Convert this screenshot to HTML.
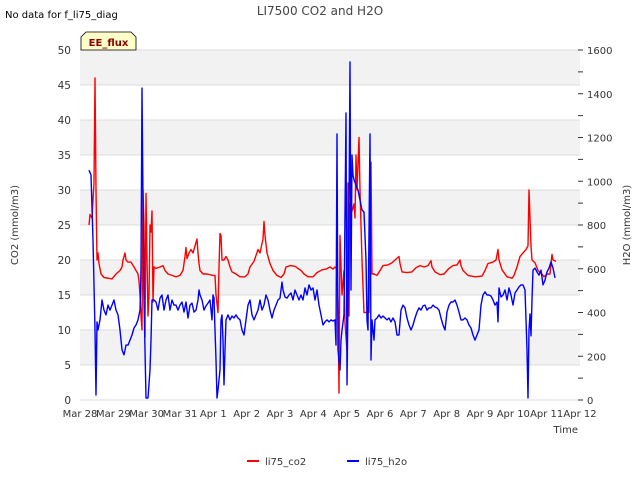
<!DOCTYPE html>
<html><head><meta charset="utf-8"><style>
body{margin:0;background:#fff;}
svg{display:block;font-family:"DejaVu Sans","Liberation Sans",sans-serif;}
</style></head><body>
<svg id="chart" width="640" height="480" viewBox="0 0 640 480" xmlns="http://www.w3.org/2000/svg">
<text x="5" y="18" font-size="10" fill="#000">No data for f_li75_diag</text>
<text x="320" y="15" font-size="12" fill="#444" text-anchor="middle">LI7500 CO2 and H2O</text>
<g id="bands"></g>
<g id="grid"></g>
<g id="series"></g>
<g id="axes"></g>
<g>
<path d="M81,50 L81,37 L86,32 L131,32 L136,37 L136,50 Z" fill="#ffffc8" stroke="#000" stroke-width="0.8"/>
<text x="108.5" y="46" font-size="10" font-weight="bold" fill="#8b0000" text-anchor="middle">EE_flux</text>
</g>
<text transform="translate(18,225) rotate(-90)" font-size="10" fill="#333" text-anchor="middle">CO2 (mmol/m3)</text>
<text transform="translate(630,225) rotate(-90)" font-size="10" fill="#333" text-anchor="middle">H2O (mmol/m3)</text>
<text x="578" y="433" font-size="10" fill="#333" text-anchor="end">Time</text>
<g>
<g><line x1="247" y1="461" x2="259" y2="461" stroke="#f00" stroke-width="2"/><text x="265" y="465" font-size="10" fill="#333">li75_co2</text></g>
<g><line x1="347" y1="461" x2="359" y2="461" stroke="#00f" stroke-width="2"/><text x="365" y="465" font-size="10" fill="#333">li75_h2o</text></g>
</g>
</svg>
<script>
const xTickLabels=["Mar 28","Mar 29","Mar 30","Mar 31","Apr 1","Apr 2","Apr 3","Apr 4","Apr 5","Apr 6","Apr 7","Apr 8","Apr 9","Apr 10","Apr 11","Apr 12"];
const leftTicks=[0,5,10,15,20,25,30,35,40,45,50];
const rightTicks=[0,200,400,600,800,1000,1200,1400,1600];
const co2Time=[0.27,0.30,0.36,0.42,0.45,0.48,0.51,0.54,0.57,0.63,0.72,0.84,0.96,1.08,1.20,1.26,1.29,1.32,1.35,1.38,1.44,1.53,1.62,1.68,1.74,1.77,1.80,1.83,1.86,1.89,1.92,1.95,1.98,2.01,2.04,2.07,2.10,2.13,2.16,2.19,2.22,2.28,2.40,2.49,2.55,2.64,2.76,2.88,3.00,3.09,3.15,3.18,3.21,3.27,3.33,3.39,3.45,3.51,3.54,3.57,3.60,3.69,3.81,3.99,4.05,4.08,4.14,4.17,4.20,4.23,4.26,4.32,4.38,4.44,4.50,4.56,4.68,4.80,4.95,5.04,5.10,5.22,5.34,5.40,5.49,5.52,5.55,5.61,5.70,5.79,5.91,6.03,6.12,6.18,6.30,6.45,6.54,6.63,6.72,6.84,6.99,7.11,7.26,7.38,7.50,7.59,7.65,7.71,7.74,7.77,7.80,7.86,7.92,7.95,8.01,8.04,8.07,8.10,8.16,8.22,8.25,8.28,8.31,8.37,8.40,8.46,8.52,8.67,8.70,8.73,8.76,8.82,8.91,9.00,9.09,9.24,9.36,9.45,9.57,9.60,9.66,9.81,9.96,10.08,10.20,10.32,10.44,10.53,10.56,10.65,10.80,10.92,11.07,11.19,11.31,11.40,11.43,11.49,11.64,11.85,12.06,12.15,12.24,12.39,12.48,12.54,12.57,12.66,12.81,12.96,13.02,13.11,13.20,13.29,13.38,13.44,13.47,13.50,13.53,13.56,13.65,13.74,13.86,13.92,14.01,14.10,14.13,14.16,14.19,14.28];
const co2Values=[25,26.5,26,31,46,30,20,21,19.5,18,17.5,17.4,17.3,18,18.5,19,20,20.5,21,20,19.7,19.7,19,18.5,18,17,15,12,10,30,25,9,29.5,20,12,15,25,24,27,14,19,18.8,19,19.2,18.5,18,17.8,17.6,17.8,18.5,20.5,21.8,20.2,21,21.5,21,22,23,21,19.5,18.5,18,18,17.8,17.8,15,12.5,19,23.8,23.5,20,20,20.5,20,19,18.3,18,17.6,17.6,18,19,19.8,21.5,21,23,25.5,23.5,21,19.5,18.5,17.8,17.5,18,19,19.2,19.1,18.8,18.5,18,17.6,17.6,18.2,18.6,18.7,19,18.7,19,18.7,14,1,23.5,15,18.5,11,7,31,12,28,27,28,26,35,30,37.5,30,20,12.5,12.5,25,34,18,18,17.8,18.5,19.2,19.3,19.6,20,20.5,19.5,18.3,18.2,18.3,18.9,19.2,19,19.2,19.9,19,18.3,17.9,18,18.8,19.2,19.3,20,19.2,18.5,17.8,17.6,17.7,18.5,19.5,19.7,20,21.5,20,18.6,17.6,17.4,17.8,19,20.5,21,21.5,22,30,26,22,20,19.6,18.5,18,17.6,18,18,19.5,20.8,20,19.8];
const h2oTime=[0.27,0.33,0.39,0.45,0.48,0.51,0.54,0.60,0.66,0.72,0.78,0.84,0.90,0.96,1.02,1.08,1.14,1.20,1.26,1.32,1.38,1.44,1.50,1.56,1.62,1.68,1.74,1.80,1.83,1.86,1.89,1.92,1.95,1.98,2.04,2.10,2.13,2.16,2.22,2.28,2.34,2.40,2.46,2.52,2.58,2.64,2.70,2.76,2.82,2.88,2.94,3.00,3.06,3.12,3.18,3.24,3.30,3.36,3.42,3.48,3.54,3.57,3.60,3.66,3.72,3.78,3.84,3.90,3.96,3.99,4.02,4.05,4.08,4.11,4.14,4.20,4.23,4.26,4.29,4.32,4.35,4.38,4.44,4.50,4.56,4.62,4.68,4.74,4.80,4.86,4.92,4.98,5.04,5.10,5.16,5.22,5.28,5.34,5.40,5.46,5.52,5.58,5.64,5.70,5.76,5.82,5.88,5.94,6.00,6.06,6.09,6.15,6.21,6.27,6.33,6.39,6.45,6.51,6.57,6.63,6.69,6.75,6.81,6.87,6.93,6.99,7.05,7.11,7.17,7.23,7.29,7.35,7.41,7.47,7.53,7.59,7.65,7.68,7.71,7.74,7.77,7.80,7.83,7.86,7.92,7.98,8.01,8.04,8.07,8.10,8.13,8.16,8.19,8.22,8.28,8.34,8.40,8.46,8.52,8.58,8.61,8.64,8.70,8.73,8.76,8.79,8.82,8.85,8.91,8.97,9.03,9.09,9.15,9.21,9.27,9.33,9.39,9.45,9.51,9.57,9.63,9.69,9.75,9.81,9.87,9.93,9.99,10.05,10.11,10.17,10.23,10.29,10.35,10.41,10.47,10.53,10.59,10.65,10.71,10.77,10.83,10.89,10.95,11.01,11.07,11.13,11.19,11.25,11.31,11.37,11.43,11.49,11.55,11.61,11.67,11.73,11.79,11.85,11.91,11.97,12.03,12.09,12.15,12.21,12.27,12.33,12.39,12.45,12.51,12.54,12.57,12.63,12.69,12.75,12.81,12.87,12.93,12.99,13.05,13.11,13.17,13.23,13.29,13.35,13.41,13.44,13.47,13.50,13.53,13.56,13.59,13.65,13.71,13.77,13.83,13.89,13.95,14.01,14.07,14.13,14.19,14.25];
const h2oValues=[1051,1029,731,320,23,357,320,366,457,411,389,434,411,434,457,411,389,320,229,206,251,251,274,297,329,343,366,411,594,1426,914,457,229,9,9,137,274,457,457,448,411,466,480,411,457,480,411,457,434,434,411,434,448,402,448,375,434,443,402,411,457,503,480,457,411,430,443,457,366,480,466,320,183,9,46,137,366,389,274,69,229,366,389,366,384,375,389,375,366,320,297,366,434,457,389,366,389,411,457,411,434,480,457,411,375,411,434,457,466,539,503,471,466,480,489,457,503,480,457,480,457,512,480,526,503,512,457,503,434,389,343,357,366,357,366,361,366,251,1216,229,183,137,274,320,389,1312,69,457,869,1545,503,1120,1029,1006,983,960,914,869,859,640,366,320,1216,183,366,320,274,366,375,389,375,384,375,366,375,357,375,357,297,297,411,434,421,375,343,320,343,375,402,421,411,430,434,411,421,421,434,425,421,411,375,343,320,402,434,448,448,457,434,402,366,366,375,366,343,329,297,274,297,320,434,480,494,480,480,475,457,434,448,357,512,471,480,503,457,512,480,434,489,503,517,526,526,503,229,9,320,393,293,457,594,603,585,571,594,526,548,585,603,631,603,558];

const NS="http://www.w3.org/2000/svg";
const X0=80,X1=580,Y0=400,Y1=50;
const xScale=d=>X0+(X1-X0)*d/15;
const yL=v=>Y0-(Y0-Y1)*v/50;
const yR=v=>Y0-(Y0-Y1)*v/1600;
function mk(tag,attrs,parent){const e=document.createElementNS(NS,tag);for(const k in attrs)e.setAttribute(k,attrs[k]);parent.appendChild(e);return e;}
const bands=document.getElementById('bands'),grid=document.getElementById('grid'),series=document.getElementById('series'),axes=document.getElementById('axes');
mk('rect',{x:X0,y:Y1,width:X1-X0,height:Y0-Y1,fill:'#fff'},bands);
for(let i=0;i<leftTicks.length-1;i++){
  if(i%2===1){const r=mk('rect',{x:X0,y:yL(leftTicks[i+1]),width:X1-X0,height:yL(leftTicks[i])-yL(leftTicks[i+1]),fill:'#f2f2f2'},bands);
  
  }
}
leftTicks.forEach(v=>{
  const l=mk('line',{x1:X0,x2:X1,y1:yL(v),y2:yL(v),stroke:'#dcdcdc','stroke-width':1},grid);
  
  
  const t=mk('text',{x:X0-9,y:yL(v)+4,'font-size':10.5,fill:'#333','text-anchor':'end'},axes);
  t.textContent=v;
  
  
});
rightTicks.forEach(v=>{
  const t=mk('text',{x:X1+7,y:yR(v)+4,'font-size':10,fill:'#333'},axes);
  t.textContent=v;
  
  
});
for(let v=0;v<=1600;v+=100){
  const tk=mk('line',{x1:X1-2,x2:X1+3,y1:yR(v),y2:yR(v),stroke:'#333','stroke-width':1},axes);
  
  
}
xTickLabels.forEach((s,i)=>{
  const t=mk('text',{x:xScale(i),y:417,'font-size':10,fill:'#333','text-anchor':'middle'},axes);
  t.textContent=s;
  
  
});
function line(ts,vs,ys,color,name){
  const d=ts.map((t,i)=>(i?'L':'M')+xScale(t).toFixed(1)+','+ys(vs[i]).toFixed(1)).join(' ');
  const p=mk('path',{d:d,fill:'none',stroke:color,'stroke-width':1.4,'stroke-linejoin':'round'},series);
  
  
}
line(co2Time,co2Values,yL,'#ff0000','co2-line');
line(h2oTime,h2oValues,yR,'#0000ff','h2o-line');
</script>
</body></html>
